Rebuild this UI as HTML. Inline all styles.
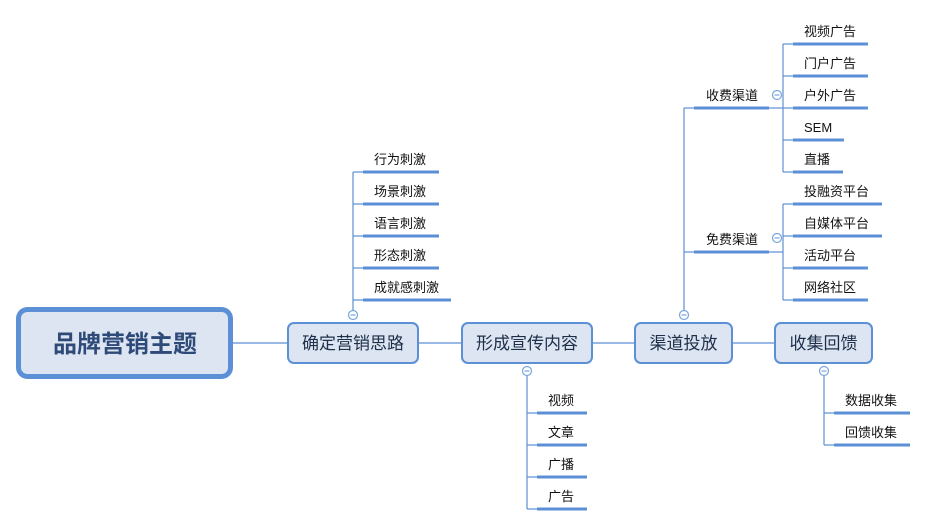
<!DOCTYPE html>
<html><head><meta charset="utf-8"><style>
html,body{margin:0;padding:0;background:#fff;}
svg{display:block;}
text{font-family:"Liberation Sans","Noto Sans CJK SC",sans-serif;}
.leaf{font-size:13px;fill:#111;}
.node{font-size:17px;fill:#1e2f4a;}
</style></head><body>
<svg width="927" height="526" viewBox="0 0 927 526" xmlns="http://www.w3.org/2000/svg">
<g stroke="#5b8fd6" fill="none" stroke-width="1.2">
  <line x1="233" y1="343" x2="287" y2="343"/>
  <line x1="418" y1="343" x2="461" y2="343"/>
  <line x1="593" y1="343" x2="634" y2="343"/>
  <line x1="732" y1="343" x2="774" y2="343"/>
  <line x1="353" y1="172" x2="353" y2="310"/>
  <line x1="353" y1="172" x2="363" y2="172"/>
  <line x1="353" y1="204" x2="363" y2="204"/>
  <line x1="353" y1="236" x2="363" y2="236"/>
  <line x1="353" y1="268" x2="363" y2="268"/>
  <line x1="353" y1="300" x2="363" y2="300"/>
  <line x1="527" y1="376" x2="527" y2="509"/>
  <line x1="527" y1="413" x2="537" y2="413"/>
  <line x1="527" y1="445" x2="537" y2="445"/>
  <line x1="527" y1="477" x2="537" y2="477"/>
  <line x1="527" y1="509" x2="537" y2="509"/>
  <line x1="824" y1="376" x2="824" y2="445"/>
  <line x1="824" y1="413" x2="834" y2="413"/>
  <line x1="824" y1="445" x2="834" y2="445"/>
  <line x1="684" y1="108" x2="684" y2="310"/>
  <line x1="684" y1="108" x2="694" y2="108"/>
  <line x1="684" y1="252" x2="694" y2="252"/>
  <line x1="769" y1="108" x2="783" y2="108"/>
  <line x1="769" y1="252" x2="783" y2="252"/>
  <line x1="783" y1="44" x2="783" y2="172"/>
  <line x1="783" y1="44" x2="793" y2="44"/>
  <line x1="783" y1="76" x2="793" y2="76"/>
  <line x1="783" y1="108" x2="793" y2="108"/>
  <line x1="783" y1="140" x2="793" y2="140"/>
  <line x1="783" y1="172" x2="793" y2="172"/>
  <line x1="783" y1="204" x2="783" y2="300"/>
  <line x1="783" y1="204" x2="793" y2="204"/>
  <line x1="783" y1="236" x2="793" y2="236"/>
  <line x1="783" y1="268" x2="793" y2="268"/>
  <line x1="783" y1="300" x2="793" y2="300"/>
</g>
<g stroke="#5b8fd6" stroke-width="3">
  <line x1="363" y1="172" x2="439" y2="172"/>
  <line x1="363" y1="204" x2="439" y2="204"/>
  <line x1="363" y1="236" x2="439" y2="236"/>
  <line x1="363" y1="268" x2="439" y2="268"/>
  <line x1="363" y1="300" x2="451" y2="300"/>
  <line x1="537" y1="413" x2="587" y2="413"/>
  <line x1="537" y1="445" x2="587" y2="445"/>
  <line x1="537" y1="477" x2="587" y2="477"/>
  <line x1="537" y1="509" x2="587" y2="509"/>
  <line x1="834" y1="413" x2="910" y2="413"/>
  <line x1="834" y1="445" x2="910" y2="445"/>
  <line x1="694" y1="108" x2="769" y2="108"/>
  <line x1="694" y1="252" x2="769" y2="252"/>
  <line x1="793" y1="44" x2="868" y2="44"/>
  <line x1="793" y1="76" x2="868" y2="76"/>
  <line x1="793" y1="108" x2="868" y2="108"/>
  <line x1="793" y1="140" x2="844" y2="140"/>
  <line x1="793" y1="172" x2="843" y2="172"/>
  <line x1="793" y1="204" x2="882" y2="204"/>
  <line x1="793" y1="236" x2="882" y2="236"/>
  <line x1="793" y1="268" x2="868" y2="268"/>
  <line x1="793" y1="300" x2="868" y2="300"/>
</g>
<rect x="18.5" y="309.5" width="212" height="67" rx="9" fill="#dce5f1" stroke="#5b8fd6" stroke-width="5"/>
<text x="125" y="352" text-anchor="middle" font-size="24" font-weight="bold" fill="#2e4a78">品牌营销主题</text>

<rect x="288" y="323" width="130" height="40" rx="6" fill="#dce5f1" stroke="#5b8fd6" stroke-width="2"/>
<text class="node" x="353" y="349" text-anchor="middle">确定营销思路</text>

<rect x="462" y="323" width="130" height="40" rx="6" fill="#dce5f1" stroke="#5b8fd6" stroke-width="2"/>
<text class="node" x="527" y="349" text-anchor="middle">形成宣传内容</text>

<rect x="635" y="323" width="97" height="40" rx="6" fill="#dce5f1" stroke="#5b8fd6" stroke-width="2"/>
<text class="node" x="683.5" y="349" text-anchor="middle">渠道投放</text>

<rect x="775" y="323" width="97" height="40" rx="6" fill="#dce5f1" stroke="#5b8fd6" stroke-width="2"/>
<text class="node" x="823.5" y="349" text-anchor="middle">收集回馈</text>

<g fill="#fff" stroke="#7aa5dd" stroke-width="1.2">
  <circle cx="353" cy="315" r="4.5"/>
  <circle cx="527" cy="371" r="4.5"/>
  <circle cx="824" cy="371" r="4.5"/>
  <circle cx="684" cy="315" r="4.5"/>
  <circle cx="777" cy="95" r="4.5"/>
  <circle cx="777" cy="238" r="4.5"/>
</g>
<g stroke="#7aa5dd" stroke-width="1.2">
  <line x1="350.5" y1="315" x2="355.5" y2="315"/>
  <line x1="524.5" y1="371" x2="529.5" y2="371"/>
  <line x1="821.5" y1="371" x2="826.5" y2="371"/>
  <line x1="681.5" y1="315" x2="686.5" y2="315"/>
  <line x1="774.5" y1="95" x2="779.5" y2="95"/>
  <line x1="774.5" y1="238" x2="779.5" y2="238"/>
</g>

<g class="leaf">
  <text x="374" y="164">行为刺激</text>
  <text x="374" y="196">场景刺激</text>
  <text x="374" y="228">语言刺激</text>
  <text x="374" y="260">形态刺激</text>
  <text x="374" y="292">成就感刺激</text>
  <text x="548" y="405">视频</text>
  <text x="548" y="437">文章</text>
  <text x="548" y="469">广播</text>
  <text x="548" y="501">广告</text>
  <text x="845" y="405">数据收集</text>
  <text x="845" y="437">回馈收集</text>
  <text x="706" y="100">收费渠道</text>
  <text x="706" y="244">免费渠道</text>
  <text x="804" y="36">视频广告</text>
  <text x="804" y="68">门户广告</text>
  <text x="804" y="100">户外广告</text>
  <text x="804" y="132">SEM</text>
  <text x="804" y="164">直播</text>
  <text x="804" y="196">投融资平台</text>
  <text x="804" y="228">自媒体平台</text>
  <text x="804" y="260">活动平台</text>
  <text x="804" y="292">网络社区</text>
</g>
</svg>
</body></html>
